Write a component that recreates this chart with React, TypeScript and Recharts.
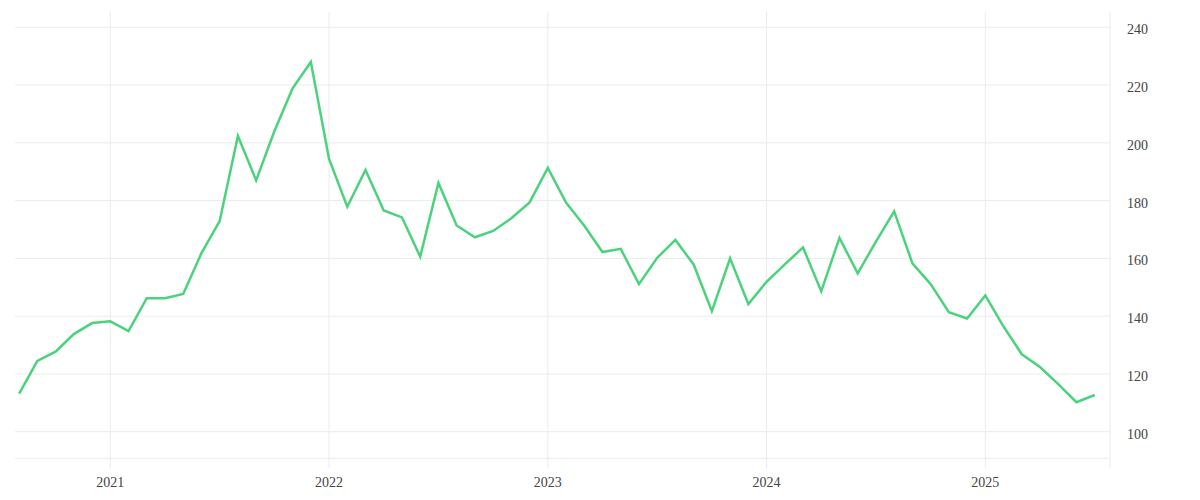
import { LineChart, Line, XAxis, YAxis, CartesianGrid, ReferenceLine } from "recharts";

// monthly readings, Aug 2020 .. Jul 2025
const months = [
  "2020-08", "2020-09", "2020-10", "2020-11", "2020-12",
  "2021-01", "2021-02", "2021-03", "2021-04", "2021-05", "2021-06",
  "2021-07", "2021-08", "2021-09", "2021-10", "2021-11", "2021-12",
  "2022-01", "2022-02", "2022-03", "2022-04", "2022-05", "2022-06",
  "2022-07", "2022-08", "2022-09", "2022-10", "2022-11", "2022-12",
  "2023-01", "2023-02", "2023-03", "2023-04", "2023-05", "2023-06",
  "2023-07", "2023-08", "2023-09", "2023-10", "2023-11", "2023-12",
  "2024-01", "2024-02", "2024-03", "2024-04", "2024-05", "2024-06",
  "2024-07", "2024-08", "2024-09", "2024-10", "2024-11", "2024-12",
  "2025-01", "2025-02", "2025-03", "2025-04", "2025-05", "2025-06",
  "2025-07",
];

const values = [
  113.2, 124.5, 127.7, 133.8, 137.6,
  138.2, 134.8, 146.2, 146.2, 147.7, 161.8,
  172.9, 202.4, 187.0, 204.0, 218.9, 228.0,
  194.4, 177.9, 190.6, 176.6, 174.2, 160.6,
  186.1, 171.4, 167.3, 169.5, 173.9, 179.4,
  191.3, 179.3, 171.3, 162.2, 163.3, 151.1,
  160.2, 166.4, 157.9, 141.7, 160.0, 144.2,
  151.9, 157.9, 163.8, 148.6, 167.1, 154.8,
  165.8, 176.3, 158.3, 151.1, 141.4, 139.2,
  147.2, 136.4, 126.8, 122.4, 116.5, 110.2,
  112.7,
];

const yTicks = [100, 120, 140, 160, 180, 200, 220, 240];
const yearLabels = ["2021", "2022", "2023", "2024", "2025"];

const START_YEAR = 2020;
const START_MONTH = 8;

// months since Aug 2020
const monthIndex = (m: string) => {
  const [y, mo] = m.split("-").map(Number);
  return (y - START_YEAR) * 12 + (mo - START_MONTH);
};

const data = months.map((m, i) => ({ t: monthIndex(m), value: values[i] }));
const xTicks = yearLabels.map((y) => monthIndex(`${y}-01`));

const formatYear = (t: number) => {
  const total = t + START_MONTH - 1;
  return String(START_YEAR + Math.floor(total / 12));
};

const GRID = "#ebebeb";
const FONT = { fontFamily: "'Liberation Serif', serif", fontSize: 14, fill: "#444" };

// right-side value labels, sitting a touch below their grid line
const YTick = ({ x, y, payload }: any) => (
  <text x={x} y={y + 2} dy="0.355em" textAnchor="start" {...FONT}>
    {payload.value}
  </text>
);

export default function App() {
  return (
    <div style={{ position: "absolute", left: 0, top: 0, background: "#fff" }}>
      <LineChart
        width={1200}
        height={500}
        data={data}
        margin={{ top: 12, left: 15, right: 30, bottom: 2 }}
      >
        <CartesianGrid stroke={GRID} strokeWidth={1} syncWithTicks />
        <XAxis
          dataKey="t"
          type="number"
          domain={[-0.228, 59.84]}
          allowDataOverflow
          ticks={xTicks}
          tickFormatter={formatYear}
          axisLine={false}
          tickLine={false}
          tickMargin={3.5}
          tick={FONT}
          height={30}
        />
        <YAxis
          orientation="right"
          type="number"
          domain={[87.43, 245.3]}
          allowDataOverflow
          ticks={yTicks}
          axisLine={{ stroke: GRID }}
          tickLine={false}
          tickMargin={11}
          tick={<YTick />}
          width={60}
        />
        <ReferenceLine y={90.8} stroke={GRID} strokeWidth={1} />
        <Line
          type="linear"
          dataKey="value"
          stroke="#4cd27c"
          strokeWidth={2.5}
          dot={false}
          isAnimationActive={false}
        />
      </LineChart>
    </div>
  );
}
